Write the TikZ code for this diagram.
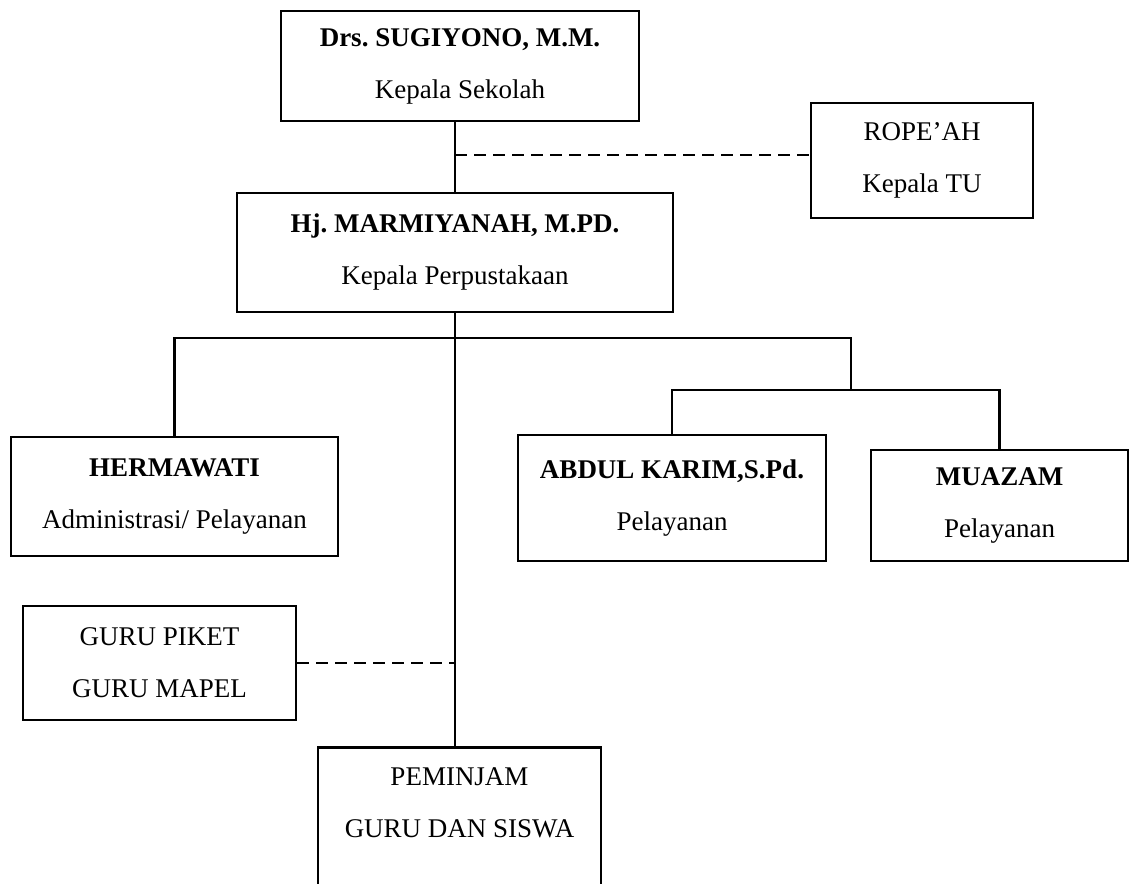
\documentclass[tikz,border=0pt]{standalone}
\usepackage{fontspec}
\setmainfont{Liberation Serif}
\frenchspacing
\tikzset{
  unit/.style={draw, line width=1.4pt, align=center, inner sep=0pt,
    font=\fontsize{13.5}{26}\selectfont},
  link/.style={line width=1.4pt},
  staff/.style={line width=1.4pt, dash pattern=on 6pt off 3.5pt}
}
\begin{document}
\begin{tikzpicture}[x=0.5pt, y=-0.5pt]
  \useasboundingbox (0,0) rectangle (1133,883);
  \clip (0,0) rectangle (1133,883);
  \node[unit, minimum width=179pt, minimum height=55pt] (kepsek) at (460,66)
    {\textbf{Drs. SUGIYONO, M.M.}\\Kepala Sekolah};
  \node[unit, minimum width=111pt, minimum height=57.5pt] (kepalatu) at (922,160.5)
    {ROPE’AH\\Kepala TU};
  \node[unit, minimum width=218pt, minimum height=59.5pt] (kaperpus) at (455,252.5)
    {\textbf{Hj. MARMIYANAH, M.PD.}\\Kepala Perpustakaan};
  \node[unit, minimum width=163.5pt, minimum height=59.5pt] (hermawati) at (174.5,496.5)
    {\textbf{HERMAWATI}\\Administrasi/ Pelayanan};
  \node[unit, minimum width=154pt, minimum height=63pt] (abdul) at (672,498)
    {\textbf{ABDUL KARIM,S.Pd.}\\Pelayanan};
  \node[unit, minimum width=128.5pt, minimum height=55.5pt] (muazam) at (999.5,505.5)
    {\textbf{MUAZAM}\\Pelayanan};
  \node[unit, minimum width=136.5pt, minimum height=57pt] (guru) at (159.5,663)
    {GURU PIKET\\GURU MAPEL};
  \node[unit, minimum width=141.5pt, inner ysep=10pt, anchor=north] (peminjam) at (459.5,746)
    {PEMINJAM\\GURU DAN SISWA\\\rule{0pt}{80pt}};

  \coordinate (split) at (851,338);
  \coordinate (subsplit) at (851,390);
  \draw[link] (kepsek.south -| kaperpus.north) -- (kaperpus.north);
  \draw[staff] ([yshift=2.75pt]kepalatu.west -| kaperpus.north) -- ([yshift=2.75pt]kepalatu.west);
  \draw[link] (kaperpus.south) -- (kaperpus.south |- peminjam.north);
  \draw[link] (hermawati.north) |- (split) -- (subsplit);
  \draw[link] (abdul.north) |- (subsplit) -| (muazam.north);
  \draw[staff] (guru.east) -- (guru.east -| kaperpus.south);
\end{tikzpicture}
\end{document}
